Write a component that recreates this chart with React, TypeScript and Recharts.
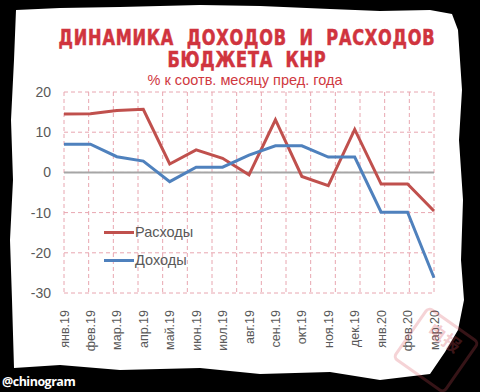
import React from 'react'
import {
  LineChart,
  Line,
  XAxis,
  YAxis,
  CartesianGrid,
  ReferenceLine
} from 'recharts'

const months = [
  'янв.19', 'фев.19', 'мар.19', 'апр.19', 'май.19', 'июн.19', 'июл.19', 'авг.19',
  'сен.19', 'окт.19', 'ноя.19', 'дек.19', 'янв.20', 'фев.20', 'мар.20'
]
const expenses = [14.5, 14.6, 15.4, 15.7, 2.1, 5.6, 3.5, -0.6, 13.1, -1.0, -3.3, 10.7, -2.9, -2.9, -9.6]
const revenues = [7.0, 7.0, 3.9, 2.8, -2.3, 1.3, 1.3, 4.3, 6.6, 6.6, 3.8, 3.8, -9.9, -9.9, -26.2]
const yTicks = [20, 15, 10, 5, 0, -5, -10, -15, -20, -25, -30]

const series = [
  { key: 'exp', name: 'Расходы', color: '#C0504D' },
  { key: 'rev', name: 'Доходы', color: '#4F81BD' }
]

const data = months.map((m, i) => ({ month: m, exp: expenses[i], rev: revenues[i] }))

const FONT = '"Liberation Sans", Arial, sans-serif'

function MonthTick({ x, y, payload }: { x?: number; y?: number; payload?: { value: string } }) {
  return (
    <text
      x={0}
      y={0}
      transform={`translate(${(x ?? 0) + 4.5},${(y ?? 0) + 9}) rotate(-90)`}
      textAnchor="end"
      fontSize={12.5}
      fontFamily={FONT}
      fill="#595959"
    >
      {payload?.value}
    </text>
  )
}

export default function App() {
  // Excel-style vertical grid: lines on category borders, not centres
  const vGrid = ({ offset }: { offset: { left: number; width: number } }) =>
    months.map((_, i) => offset.left + (i * offset.width) / months.length).concat(offset.left + offset.width)

  return (
    <div style={{ position: 'absolute', left: 0, top: 0, width: 480, height: 392, background: '#000', overflow: 'hidden' }}>
      {/* torn paper */}
      <svg width={480} height={392} style={{ position: 'absolute', left: 0, top: 0 }}>
        <path
          d="M16 10 L60 8 L120 7 L200 5 L260 6 L330 9 L380 11 L430 10 L452 14 L458 30 L462 90 L459 140 L463 200 L461 260 L464 300 L458 330 L445 352 L430 374 L380 380 L330 372 L260 374 L200 368 L120 370 L60 365 L14 368 L12 300 L10 240 L13 180 L11 120 L14 60 Z"
          fill="#fff"
        />
      </svg>
      <div
        style={{
          position: 'absolute', left: 0, top: 27, width: 494, textAlign: 'center',
          fontFamily: '"DejaVu Sans", sans-serif', fontWeight: 700, fontSize: 21,
          lineHeight: '22px', color: '#D0343E', letterSpacing: 1, wordSpacing: 8,
          transform: 'scaleX(0.77)', transformOrigin: '247px 0', WebkitTextStroke: '0.6px #D0343E'
        }}
      >
        ДИНАМИКА ДОХОДОВ И РАСХОДОВ
        <br />
        БЮДЖЕТА КНР
      </div>
      <div
        style={{
          position: 'absolute', left: 0, top: 72, width: 490, textAlign: 'center',
          fontFamily: FONT, fontSize: 14.5, lineHeight: '16px', color: '#D0393F'
        }}
      >
        % к соотв. месяцу пред. года
      </div>
      <div style={{ position: 'absolute', left: 0, top: 0 }}>
        <LineChart width={480} height={392} data={data} margin={{ top: 92, right: 46, bottom: 0, left: 24 }}>
          <CartesianGrid
            stroke="#E8A6B0"
            strokeDasharray="4 3"
            verticalCoordinatesGenerator={vGrid as any}
          />
          <XAxis
            dataKey="month"
            axisLine={false}
            tickLine={false}
            interval={0}
            height={99}
            tick={<MonthTick />}
          />
          <YAxis
            domain={[-30, 20]}
            ticks={yTicks}
            width={40}
            axisLine={false}
            tickLine={false}
            tickSize={0}
            tickMargin={13}
            tick={{ fontSize: 14, fill: '#595959', fontFamily: FONT }}
          />
          <ReferenceLine y={0} stroke="#A6A6A6" strokeWidth={2} />
          {series.map((s) => (
            <Line
              key={s.key}
              dataKey={s.key}
              name={s.name}
              stroke={s.color}
              strokeWidth={3}
              dot={false}
              isAnimationActive={false}
            />
          ))}
        </LineChart>
      </div>
      {/* legend inside the plot */}
      <div style={{ position: 'absolute', left: 104, top: 218, fontFamily: FONT, fontSize: 14.5, color: '#595959' }}>
        {series.map((s) => (
          <div key={s.key} style={{ display: 'flex', alignItems: 'center', height: 28 }}>
            <span style={{ display: 'inline-block', width: 30, height: 3, background: s.color }} />
            <span style={{ marginLeft: 1 }}>{s.name}</span>
          </div>
        ))}
      </div>
      {/* stamp */}
      <div
        style={{
          position: 'absolute', left: 404, top: 318, width: 58, height: 58,
          border: '3px solid rgba(214,80,90,0.25)', borderRadius: 6, transform: 'rotate(35deg)',
          color: 'rgba(214,80,90,0.3)', fontFamily: '"Noto Sans CJK SC", sans-serif', fontSize: 18,
          lineHeight: '27px', textAlign: 'center', fontWeight: 700
        }}
      >
        电报
      </div>
      <div
        style={{
          position: 'absolute', left: 2, top: 373, fontFamily: '"Open Sans", sans-serif',
          fontWeight: 700, fontSize: 12.5, color: '#fff', letterSpacing: -0.5
        }}
      >
        @chinogram
      </div>
    </div>
  )
}
